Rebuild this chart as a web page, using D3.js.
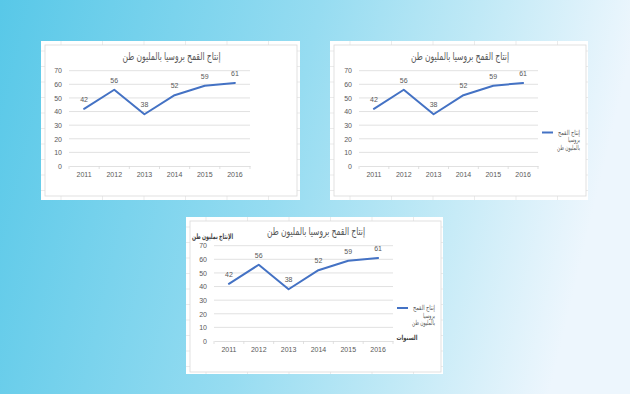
<!DOCTYPE html>
<html><head><meta charset="utf-8">
<script src="https://cdn.jsdelivr.net/npm/d3@7"></script>
<style>
html,body{margin:0;padding:0;overflow:hidden;}
svg{display:block;}
text{font-family:"Liberation Sans","DejaVu Sans",sans-serif;}
</style></head>
<body>
<script>
// ---- data ----
const years = ["2011","2012","2013","2014","2015","2016"];
const production = [42, 56, 38, 52, 59, 61];
const yTicks = [0,10,20,30,40,50,60,70];
const chartTitle = "إنتاج القمح بروسيا بالمليون طن";
const legendLines = ["إنتاج القمح", "بروسيا", "بالمليون طن"];
const yAxisTitle = "الإنتاج بمليون طن";
const xAxisTitle = "السنوات";

// ---- layout ----
const W = 630, H = 394;
const panels = [
  {outer:[41,41,259,159], box:[45,45,252,151], plot:[69,250,70.7,166], title:[171.5,57], legend:null, ytitle:null, xtitle:null},
  {outer:[330,41,258,159], box:[334,45,252,151], plot:[359,538,70.7,166], title:[460,57], legend:[542,132.5,580], ytitle:null, xtitle:null},
  {outer:[186,217,257,157], box:[190,221,251,151], plot:[214,393,245.7,341], title:[316,232.5], legend:[397,308,435], ytitle:[212.5,238.5], xtitle:[407,340]}
];
const legendWidths = [22, 12, 23];

const svg = d3.select("body").append("svg").attr("width",W).attr("height",H);
const defs = svg.append("defs");
const grad = defs.append("linearGradient").attr("id","bg").attr("x1","0").attr("x2","1").attr("y1","0").attr("y2","0.15");
grad.append("stop").attr("offset","0").attr("stop-color","#58c8e8");
grad.append("stop").attr("offset","0.5").attr("stop-color","#96dcf1");
grad.append("stop").attr("offset","0.75").attr("stop-color","#c0e9f6");
grad.append("stop").attr("offset","1").attr("stop-color","#edf6fd");
svg.append("rect").attr("width",W).attr("height",H).attr("fill","url(#bg)");

const gray = "#595959";

panels.forEach(p => {
  const g = svg.append("g");
  const [ox,oy,ow,oh] = p.outer;
  g.append("rect").attr("x",ox).attr("y",oy).attr("width",ow).attr("height",oh).attr("fill","#ffffff");
  // faint spreadsheet cell grid
  const cellW = 41.5, cellH = 15.5;
  for (let x = ox + 20; x < ox + ow; x += cellW)
    g.append("line").attr("x1",x).attr("x2",x).attr("y1",oy).attr("y2",oy+oh).attr("stroke","#e6e6e6").attr("stroke-width",0.8);
  for (let y = oy + 10; y < oy + oh; y += cellH)
    g.append("line").attr("x1",ox).attr("x2",ox+ow).attr("y1",y).attr("y2",y).attr("stroke","#e6e6e6").attr("stroke-width",0.8);
  const [bx,by,bw,bh] = p.box;
  g.append("rect").attr("x",bx).attr("y",by).attr("width",bw).attr("height",bh)
    .attr("fill","#ffffff").attr("stroke","#d9d9d9").attr("stroke-width",0.8);

  const [pl,pr,pt,pb] = p.plot;
  const x = d3.scaleBand().domain(years).range([pl,pr]);
  const y = d3.scaleLinear().domain([0,70]).range([pb,pt]);

  // gridlines
  g.append("g").selectAll("line").data(yTicks.filter(t=>t>0)).join("line")
    .attr("x1",pl).attr("x2",pr).attr("y1",d=>y(d)).attr("y2",d=>y(d))
    .attr("stroke","#d9d9d9").attr("stroke-width",0.8);

  // y axis labels
  const ya = g.append("g").attr("transform",`translate(${pl},0)`)
    .call(d3.axisLeft(y).tickValues(yTicks).tickSize(0).tickPadding(7));
  ya.select(".domain").remove();
  ya.selectAll("text").attr("fill",gray).style("font-size","7px").attr("font-family","Liberation Sans, sans-serif");

  // x axis
  const xa = g.append("g").attr("transform",`translate(0,${pb})`)
    .call(d3.axisBottom(x).tickSize(0).tickPadding(6));
  xa.select(".domain").attr("stroke","#d9d9d9").attr("stroke-width",0.8);
  xa.selectAll("text").attr("fill",gray).style("font-size","7px").attr("font-family","Liberation Sans, sans-serif");
  const seps = years.map(d=>x(d)).concat([x(years[years.length-1])+x.bandwidth()]);
  g.append("g").selectAll("line").data(seps).join("line")
    .attr("x1",d=>d).attr("x2",d=>d).attr("y1",pb).attr("y2",pb+3)
    .attr("stroke","#d9d9d9").attr("stroke-width",0.8);

  // line
  const line = d3.line().x((d,i)=>x(years[i])+x.bandwidth()/2).y(d=>y(d));
  g.append("path").datum(production).attr("d",line).attr("fill","none")
    .attr("stroke","#4472c4").attr("stroke-width",2).attr("stroke-linejoin","round").attr("stroke-linecap","round");

  // data labels
  g.append("g").selectAll("text").data(production).join("text")
    .attr("x",(d,i)=>x(years[i])+x.bandwidth()/2).attr("y",d=>y(d)-7)
    .attr("text-anchor","middle").attr("fill",gray).style("font-size","7px").text(d=>d);

  // title
  g.append("text").attr("x",p.title[0]-49).attr("y",p.title[1]).attr("text-anchor","start")
    .attr("dominant-baseline","middle").attr("fill",gray).style("font-size","11px")
    .attr("textLength",98).attr("lengthAdjust","spacingAndGlyphs").text(chartTitle);

  if (p.legend) {
    const [lx,ly,tr] = p.legend;
    g.append("line").attr("x1",lx).attr("x2",lx+11).attr("y1",ly).attr("y2",ly)
      .attr("stroke","#4472c4").attr("stroke-width",2);
    g.append("g").selectAll("text").data(legendLines).join("text")
      .attr("x",(d,i)=>tr-legendWidths[i]).attr("y",(d,i)=>ly+2+i*7.6).attr("text-anchor","start")
      .attr("textLength",(d,i)=>legendWidths[i]).attr("lengthAdjust","spacingAndGlyphs")
      .attr("fill",gray).style("font-size","7px").text(d=>d);
  }
  if (p.ytitle) {
    g.append("text").attr("x",p.ytitle[0]-20.5).attr("y",p.ytitle[1]).attr("text-anchor","start")
      .attr("textLength",41).attr("lengthAdjust","spacingAndGlyphs")
      .attr("fill","#404040").style("font-size","7.5px").style("font-weight","bold").text(yAxisTitle);
  }
  if (p.xtitle) {
    g.append("text").attr("x",p.xtitle[0]-10.5).attr("y",p.xtitle[1]).attr("text-anchor","start")
      .attr("textLength",21).attr("lengthAdjust","spacingAndGlyphs")
      .attr("fill","#404040").style("font-size","7px").style("font-weight","bold").text(xAxisTitle);
  }
});
</script>
</body></html>
